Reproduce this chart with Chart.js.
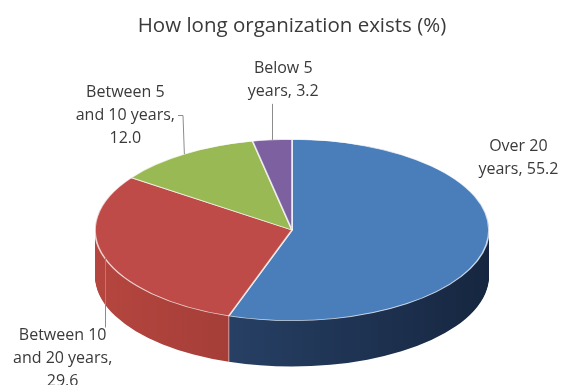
<!DOCTYPE html>
<html>
<head>
<meta charset="utf-8">
<script src="https://cdn.jsdelivr.net/npm/chart.js@4/dist/chart.umd.min.js"></script>
<style>
  html, body { margin: 0; padding: 0; background: #ffffff; }
  canvas { display: block; }
</style>
</head>
<body>
<canvas id="chart" width="563" height="385"></canvas>
<script>
// ---- data ----
const chartTitle = 'How long organization exists (%)';
const categories = ['Over 20 years', 'Between 10 and 20 years', 'Between 5 and 10 years', 'Below 5 years'];
const shares = [55.2, 29.6, 12.0, 3.2];
// wrapped label text; {v} is replaced by the slice value
const labelLines = [
  ['Over 20', 'years, {v}'],
  ['Between 10', 'and 20 years,', '{v}'],
  ['Between 5', 'and 10 years,', '{v}'],
  ['Below 5', 'years, {v}']
];

// ---- styling ----
const topColors  = ['#4a7ebb', '#be4b48', '#98b954', '#7d60a0'];
const sideLight  = ['#2f4d77', '#b5463f', '#7d9a45', '#64497f'];
const sideDark   = ['#162640', '#872e2b', '#5f7a30', '#4b3562'];
const textColor = '#3a3a3a';
const depth = 46;               // thickness of the pie wall, px
const labelFont = '16px "Open Sans"';
const lineHeight = 23;
// label block centre relative to the rim point at the slice middle
const labelOffsets = [[32, -87], [-42, 100], [-59, -39], [11, -60]];
const showLeader = [false, true, true, true];

function pieGeometry(chart) {
  const arcs = chart.getDatasetMeta(0).data;
  const p = arcs[0].getProps(['x', 'y', 'outerRadius'], true);
  const sx = (chart.chartArea.width / 2) / p.outerRadius;   // horizontal stretch -> tilted ellipse
  return { arcs, x: p.x, y: p.y, r: p.outerRadius, sx };
}

// Draws the pie wall below the slices and stretches the face into an ellipse.
const pie3d = {
  id: 'pie3d',
  beforeDatasetsDraw(chart) {
    const ctx = chart.ctx;
    const { arcs, x, y, r, sx } = pieGeometry(chart);
    ctx.save();
    ctx.translate(x, y);
    ctx.scale(sx, 1);
    ctx.translate(-x, -y);

    const angles = arcs.map(a => a.getProps(['startAngle', 'endAngle'], true));
    const fills = arcs.map((a, i) => {
      const g = ctx.createLinearGradient(x - r, 0, x + r, 0);
      g.addColorStop(0, sideLight[i]);
      g.addColorStop(1, sideDark[i]);
      return g;
    });
    for (let d = depth; d >= 1; d--) {
      angles.forEach((ang, i) => {
        ctx.fillStyle = fills[i];
        ctx.beginPath();
        ctx.moveTo(x, y + d);
        ctx.arc(x, y + d, r, ang.startAngle, ang.endAngle);
        ctx.closePath();
        ctx.fill();
      });
    }
    // light seams where slices meet on the visible front wall
    ctx.strokeStyle = 'rgba(255,255,255,0.7)';
    ctx.lineWidth = 1 / sx;
    angles.forEach(ang => {
      if (Math.sin(ang.startAngle) > 0.05) {
        const ex = x + r * Math.cos(ang.startAngle);
        const ey = y + r * Math.sin(ang.startAngle);
        ctx.beginPath();
        ctx.moveTo(ex, ey);
        ctx.lineTo(ex, ey + depth);
        ctx.stroke();
      }
    });
    // the slices drawn next by the chart stay inside this stretched transform
  },
  afterDatasetsDraw(chart) {
    chart.ctx.restore();
  },
  afterDraw(chart) {
    const ctx = chart.ctx;
    const { arcs, x, y, r, sx } = pieGeometry(chart);
    ctx.save();
    ctx.font = labelFont;
    ctx.textAlign = 'center';
    ctx.textBaseline = 'middle';
    arcs.forEach((arc, i) => {
      const a = arc.getProps(['startAngle', 'endAngle'], true);
      const mid = (a.startAngle + a.endAngle) / 2;
      const px = x + sx * r * Math.cos(mid);
      const py = y + r * Math.sin(mid);
      const lines = labelLines[i].map(s => s.replace('{v}', shares[i].toFixed(1)));
      const cx = px + labelOffsets[i][0];
      const cy = py + labelOffsets[i][1];
      const top = cy - lines.length * lineHeight / 2;
      const bottom = top + lines.length * lineHeight;
      const w = Math.max(...lines.map(l => ctx.measureText(l).width));
      ctx.fillStyle = textColor;
      lines.forEach((l, k) => ctx.fillText(l, cx, top + lineHeight * (k + 0.5)));

      if (!showLeader[i]) return;
      ctx.strokeStyle = '#8c8c8c';
      ctx.lineWidth = 1;
      ctx.beginPath();
      const left = cx - w / 2, right = cx + w / 2;
      if (px >= left && px <= right) {
        const ex = Math.round(px) + 0.5;
        ctx.moveTo(ex, py);
        ctx.lineTo(ex, py > cy ? bottom + 1 : top + 4);
      } else {
        const dir = px > cx ? 1 : -1;
        const edge = dir > 0 ? right : left;
        const ly = Math.round(top + lineHeight * (Math.floor(lines.length / 2) + 0.5)) + 0.5;
        ctx.moveTo(px, py);
        ctx.lineTo(edge + dir * 8, ly);
        ctx.lineTo(edge + dir * 3, ly);
      }
      ctx.stroke();
    });
    ctx.restore();
  }
};

new Chart(document.getElementById('chart'), {
  type: 'pie',
  data: {
    labels: categories,
    datasets: [{
      data: shares,
      backgroundColor: topColors,
      borderColor: 'rgba(255,255,255,0.75)',
      borderWidth: 0.8,
      clip: false
    }]
  },
  options: {
    responsive: false,
    animation: false,
    layout: { padding: { left: 95, right: 74, top: 0, bottom: 64 } },
    plugins: {
      legend: { display: false },
      tooltip: { enabled: false },
      title: {
        display: true,
        text: chartTitle,
        color: textColor,
        font: { family: 'Open Sans', size: 20.5, weight: 'normal' },
        padding: { top: 14, bottom: 100.4 }
      }
    }
  },
  plugins: [pie3d]
});
</script>
</body>
</html>
